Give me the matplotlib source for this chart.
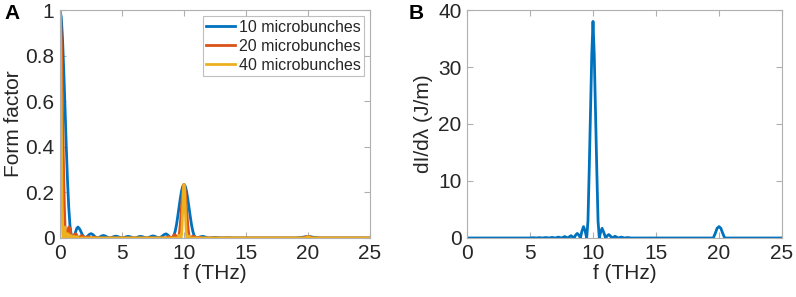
import numpy as np
import matplotlib.pyplot as plt

plt.rcParams['font.family'] = ['Liberation Sans', 'DejaVu Sans']

# ---- Panel A: form factor ----
f_10 = [0, 0.1, 0.2, 0.3, 0.4, 0.5, 0.6, 0.7, 0.8, 0.9, 1.0,
        1.2, 1.35, 1.45, 1.6, 1.8, 2.0,
        2.2, 2.35, 2.5, 2.65, 2.8, 3.0,
        3.2, 3.35, 3.5, 3.65, 3.8, 4.0,
        4.2, 4.35, 4.5, 4.65, 4.8, 5.0,
        5.2, 5.35, 5.5, 5.65, 5.8, 6.0,
        6.2, 6.35, 6.5, 6.65, 6.8, 7.0,
        7.2, 7.35, 7.5, 7.65, 7.8, 8.0,
        8.2, 8.4, 8.55, 8.7, 8.85, 9.0,
        9.1, 9.2, 9.3, 9.4, 9.5, 9.6, 9.7, 9.8, 9.9, 10.0,
        10.1, 10.2, 10.3, 10.4, 10.5, 10.6, 10.7, 10.8, 10.9, 11.0,
        11.2, 11.35, 11.5, 11.65, 11.8, 12.0,
        12.25, 12.5, 12.75, 13.0, 13.5, 14.0,
        19.0, 19.5, 19.8, 20.0, 20.2, 20.5, 21.0, 25.0]
ff_10 = [1.0, 0.968, 0.876, 0.737, 0.576, 0.409, 0.257, 0.138, 0.056, 0.012, 0.0,
         0.017, 0.042, 0.048, 0.038, 0.014, 0.0,
         0.0066, 0.015, 0.019, 0.015, 0.0066, 0.0,
         0.004, 0.0087, 0.011, 0.0087, 0.004, 0.0,
         0.0028, 0.0063, 0.008, 0.0063, 0.0028, 0.0,
         0.0024, 0.0056, 0.007, 0.0056, 0.0024, 0.0,
         0.0024, 0.0056, 0.007, 0.0056, 0.0024, 0.0,
         0.0031, 0.0071, 0.009, 0.0071, 0.0031, 0.0,
         0.006, 0.015, 0.018, 0.013, 0.004, 0.0,
         0.003, 0.013, 0.032, 0.060, 0.096, 0.135, 0.173, 0.206, 0.227, 0.235,
         0.227, 0.206, 0.173, 0.135, 0.096, 0.060, 0.032, 0.013, 0.003, 0.0,
         0.0024, 0.0055, 0.007, 0.0055, 0.0024, 0.0,
         0.0012, 0.0025, 0.0012, 0.0, 0.001, 0.0,
         0.0, 0.0025, 0.0055, 0.006, 0.0055, 0.0025, 0.0, 0.0]

f_20 = [0, 0.05, 0.1, 0.15, 0.2, 0.25, 0.3, 0.35, 0.4, 0.45, 0.5,
        0.6, 0.675, 0.725, 0.8, 0.9, 1.0,
        1.1, 1.175, 1.25, 1.325, 1.4, 1.5,
        1.6, 1.675, 1.75, 1.825, 1.9, 2.0,
        2.25, 2.5, 2.75, 3.0, 8.5, 8.75, 9.0,
        9.1, 9.175, 9.25, 9.325, 9.4,
        9.5, 9.55, 9.6, 9.65, 9.7, 9.75, 9.8, 9.85, 9.9, 9.95, 10.0,
        10.05, 10.1, 10.15, 10.2, 10.25, 10.3, 10.35, 10.4, 10.45, 10.5,
        10.6, 10.675, 10.75, 10.825, 10.9, 11.0, 11.25, 11.5,
        19.5, 19.75, 19.9, 20.0, 20.1, 20.25, 20.5, 25.0]
ff_20 = [1.0, 0.968, 0.876, 0.737, 0.576, 0.409, 0.257, 0.138, 0.056, 0.012, 0.0,
         0.017, 0.042, 0.048, 0.038, 0.014, 0.0,
         0.0066, 0.015, 0.019, 0.015, 0.0066, 0.0,
         0.004, 0.0087, 0.011, 0.0087, 0.004, 0.0,
         0.006, 0.0, 0.004, 0.0, 0.0, 0.006, 0.0,
         0.005, 0.012, 0.014, 0.011, 0.004,
         0.0, 0.003, 0.013, 0.032, 0.060, 0.096, 0.135, 0.173, 0.206, 0.227, 0.235,
         0.227, 0.206, 0.173, 0.135, 0.096, 0.060, 0.032, 0.013, 0.003, 0.0,
         0.003, 0.0065, 0.008, 0.0065, 0.003, 0.0, 0.003, 0.0,
         0.0, 0.003, 0.0055, 0.006, 0.0055, 0.003, 0.0, 0.0]

f_40 = [0, 0.025, 0.05, 0.075, 0.1, 0.125, 0.15, 0.175, 0.2, 0.225, 0.25,
        0.3, 0.34, 0.365, 0.4, 0.45, 0.5,
        0.55, 0.5875, 0.625, 0.6625, 0.7, 0.75,
        0.875, 1.0, 1.125, 1.25, 1.375, 1.5,
        9.5, 9.625, 9.75, 9.775, 9.8, 9.825, 9.85, 9.875, 9.9, 9.925, 9.95, 9.975, 10.0,
        10.025, 10.05, 10.075, 10.1, 10.125, 10.15, 10.175, 10.2, 10.225, 10.25,
        10.375, 10.5, 19.75, 19.875, 20.0, 20.125, 20.25, 25.0]
ff_40 = [1.0, 0.968, 0.876, 0.737, 0.576, 0.409, 0.257, 0.138, 0.056, 0.012, 0.0,
         0.017, 0.042, 0.048, 0.038, 0.014, 0.0,
         0.0066, 0.015, 0.019, 0.015, 0.0066, 0.0,
         0.011, 0.0, 0.008, 0.0, 0.006, 0.0,
         0.0, 0.012, 0.0, 0.003, 0.013, 0.032, 0.060, 0.096, 0.135, 0.173, 0.206, 0.227, 0.235,
         0.227, 0.206, 0.173, 0.135, 0.096, 0.060, 0.032, 0.013, 0.003, 0.0,
         0.009, 0.0, 0.0, 0.003, 0.006, 0.003, 0.0, 0.0]

labels_a = ['10 microbunches', '20 microbunches', '40 microbunches']

# ---- Panel B: spectral energy density ----
f_b = [0, 5.0, 5.25, 5.5, 5.75, 6.0, 6.25, 6.5, 6.75, 7.0, 7.25, 7.5, 7.75, 8.0,
       8.15, 8.25, 8.35, 8.5, 8.62, 8.75, 8.88, 9.0, 9.12, 9.25, 9.38, 9.5,
       9.6, 9.7, 9.8, 9.9, 10.0, 10.1, 10.2, 10.3, 10.4, 10.5,
       10.6, 10.72, 10.85, 11.0, 11.12, 11.25, 11.38, 11.5, 11.75, 12.0,
       12.25, 12.5, 12.75, 13.0,
       19.55, 19.7, 19.85, 20.0, 20.15, 20.3, 20.45, 25.0]
dI_b = [0, 0, 0.05, 0, 0.06, 0, 0.08, 0, 0.1, 0, 0.15, 0, 0.25, 0,
        0.25, 0.4, 0.25, 0, 0.5, 0.8, 0.5, 0, 1.2, 2.0, 1.2, 0,
        3, 12, 22, 32, 38, 32, 22, 12, 3, 0,
        1.0, 1.7, 1.0, 0, 0.35, 0.6, 0.35, 0, 0.3, 0,
        0.15, 0, 0.08, 0,
        0, 0.8, 1.7, 2.0, 1.7, 0.8, 0, 0]

colors = ['#0072BD', '#D95319', '#EDB120']
spine_col = '#b0b0b0'
txt_col = '#262626'
fs = 15

fig = plt.figure(figsize=(7.96, 2.97), dpi=100)
ax1 = fig.add_axes([0.0754, 0.1987, 0.3894, 0.7676])
ax2 = fig.add_axes([0.5867, 0.1987, 0.3957, 0.7676])

ax1.plot(f_10, ff_10, color=colors[0], lw=2, label=labels_a[0])
ax1.plot(f_20, ff_20, color=colors[1], lw=2, label=labels_a[1])
ax1.plot(f_40, ff_40, color=colors[2], lw=2, label=labels_a[2])
ax1.set_xlim(0, 25)
ax1.set_ylim(0, 1)
ax1.set_yticks([0, 0.2, 0.4, 0.6, 0.8, 1])
ax1.set_yticklabels(['0', '0.2', '0.4', '0.6', '0.8', '1'])
ax1.set_ylabel('Form factor', fontsize=fs, color=txt_col, labelpad=2)
leg = ax1.legend(loc='upper right', fontsize=11.5, frameon=True, fancybox=False,
                 handlelength=1.8, handletextpad=0.25, labelspacing=0.25,
                 borderpad=0.2, borderaxespad=0.4)
leg.get_frame().set_edgecolor(spine_col)
leg.get_frame().set_linewidth(0.8)
for t in leg.get_texts():
    t.set_color(txt_col)

ax2.plot(f_b, dI_b, color=colors[0], lw=2)
ax2.set_xlim(0, 25)
ax2.set_ylim(0, 40)
ax2.set_yticks([0, 10, 20, 30, 40])
ax2.set_ylabel('dI/dλ (J/m)', fontsize=fs, color=txt_col, labelpad=4)

for ax in (ax1, ax2):
    ax.set_xticks([0, 5, 10, 15, 20, 25])
    ax.set_xlabel('f (THz)', fontsize=fs, color=txt_col, labelpad=1)
    ax.tick_params(direction='in', length=4, width=0.8, colors=spine_col,
                   labelcolor=txt_col, labelsize=fs, top=True, right=True, pad=4)
    for s in ax.spines.values():
        s.set_color(spine_col)
        s.set_linewidth(0.8)

fig.text(0.006, 0.935, 'A', fontsize=15, fontweight='bold')
fig.text(0.513, 0.935, 'B', fontsize=15, fontweight='bold')

fig.savefig('out.png', dpi=100)
